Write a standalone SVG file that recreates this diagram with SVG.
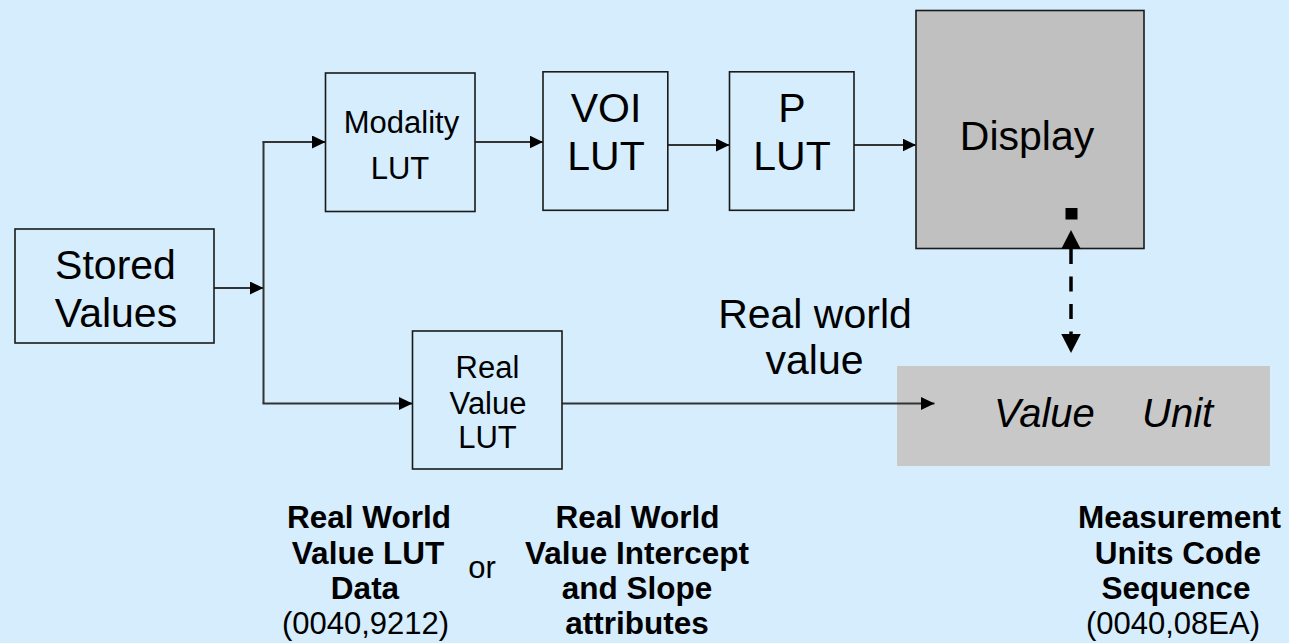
<svg xmlns="http://www.w3.org/2000/svg" width="1289" height="643" viewBox="0 0 1289 643">
  <style>
    text { font-family: "Liberation Sans", Arial, sans-serif; fill: #000; }
    .box { fill: none; stroke: #1a1a1a; stroke-width: 1.6; }
    .big { font-size: 41px; text-anchor: middle; }
    .mid { font-size: 31px; text-anchor: middle; }
    .bold { font-size: 31.5px; font-weight: bold; text-anchor: middle; }
    .reg { font-size: 31px; text-anchor: middle; }
    .conn { fill: none; stroke: #333; stroke-width: 2; }
  </style>
  <defs>
    <marker id="arrow" markerUnits="userSpaceOnUse" markerWidth="14" markerHeight="14" refX="13.5" refY="6.5" orient="auto">
      <path d="M0,0 L13.5,6.5 L0,13 Z" fill="#000"/>
    </marker>
    <marker id="bigarrow" markerUnits="userSpaceOnUse" markerWidth="20" markerHeight="20" refX="19" refY="9.75" orient="auto">
      <path d="M0,0 L19,9.75 L0,19.5 Z" fill="#000"/>
    </marker>
  </defs>
  <rect x="0" y="0" width="1289" height="643" fill="#D5EDFD"/>

  <g id="value-unit">
    <rect x="897" y="366" width="373" height="100" fill="#C8C8C8"/>
    <text x="994" y="427" font-size="40" font-style="italic">Value</text>
    <text x="1142" y="427" font-size="40" font-style="italic">Unit</text>
  </g>

  <g id="display">
    <rect x="916" y="10.5" width="228" height="238" fill="#C0C0C0" stroke="#1a1a1a" stroke-width="1.6"/>
    <text class="big" x="1027" y="150">Display</text>
    <rect x="1065.5" y="208" width="12" height="11.5" fill="#000"/>
  </g>

  <g id="connectors">
    <line class="conn" x1="214" y1="288" x2="263.5" y2="288" marker-end="url(#arrow)"/>
    <line class="conn" x1="263.5" y1="141.5" x2="263.5" y2="403.5"/>
    <line class="conn" x1="262.5" y1="142" x2="325.5" y2="142" marker-end="url(#arrow)"/>
    <line class="conn" x1="262.5" y1="403.5" x2="412.5" y2="403.5" marker-end="url(#arrow)"/>
    <line class="conn" x1="475" y1="142" x2="543" y2="142" marker-end="url(#arrow)"/>
    <line class="conn" x1="668" y1="145" x2="729.5" y2="145" marker-end="url(#arrow)"/>
    <line class="conn" x1="854" y1="145" x2="916" y2="145" marker-end="url(#arrow)"/>
    <line class="conn" x1="562" y1="403.5" x2="934.5" y2="403.5" marker-end="url(#arrow)"/>
    <line x1="1071" y1="249" x2="1071" y2="334" stroke="#000" stroke-width="3.5" stroke-dasharray="15 12.5"/>
    <line x1="1071" y1="260" x2="1071" y2="230" stroke="none" marker-end="url(#bigarrow)"/>
    <line x1="1071" y1="320" x2="1071" y2="353" stroke="none" marker-end="url(#bigarrow)"/>
  </g>

  <g id="stored-values">
    <rect class="box" x="15" y="229" width="199" height="114"/>
    <text class="big" x="115.5" y="279">Stored</text>
    <text class="big" x="116" y="327">Values</text>
  </g>

  <g id="modality-lut">
    <rect class="box" x="325.5" y="73" width="149.5" height="138.5"/>
    <text class="mid" x="401.5" y="133">Modality</text>
    <text class="mid" x="400" y="179">LUT</text>
  </g>

  <g id="voi-lut">
    <rect class="box" x="543" y="71.8" width="124.8" height="138.5"/>
    <text class="big" x="606" y="122">VOI</text>
    <text class="big" x="606" y="170">LUT</text>
  </g>

  <g id="p-lut">
    <rect class="box" x="729.5" y="71.8" width="124.5" height="138.5"/>
    <text class="big" x="792" y="122">P</text>
    <text class="big" x="792" y="170">LUT</text>
  </g>

  <g id="real-value-lut">
    <rect class="box" x="412.5" y="331" width="149.5" height="138"/>
    <text class="mid" x="487.5" y="378">Real</text>
    <text class="mid" x="488" y="414">Value</text>
    <text class="mid" x="487.5" y="448">LUT</text>
  </g>

  <g id="real-world-value-label">
    <text class="big" x="815" y="328">Real world</text>
    <text class="big" x="814.5" y="374">value</text>
  </g>

  <g id="lut-data-label">
    <text class="bold" x="369" y="528">Real World</text>
    <text class="bold" x="368" y="564">Value LUT</text>
    <text class="bold" x="365" y="599">Data</text>
    <text class="reg" x="365.5" y="634">(0040,9212)</text>
  </g>

  <g id="or-label">
    <text class="reg" x="482" y="578">or</text>
  </g>

  <g id="intercept-label">
    <text class="bold" x="637.5" y="528">Real World</text>
    <text class="bold" x="637" y="564">Value Intercept</text>
    <text class="bold" x="637" y="599">and Slope</text>
    <text class="bold" x="637" y="634">attributes</text>
  </g>

  <g id="units-label">
    <text class="bold" x="1179.5" y="528">Measurement</text>
    <text class="bold" x="1178" y="564">Units Code</text>
    <text class="bold" x="1176" y="599">Sequence</text>
    <text class="reg" x="1173" y="634">(0040,08EA)</text>
  </g>
</svg>
